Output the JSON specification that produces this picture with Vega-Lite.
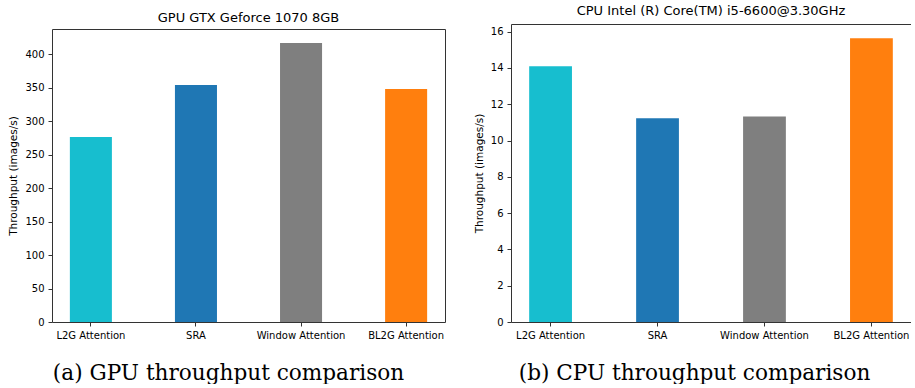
{
  "$schema": "https://vega.github.io/schema/vega-lite/v6.json",
  "padding": {"left": 8, "top": 4, "right": 0, "bottom": 0},
  "spacing": 29,
  "config": {
    "view": {"stroke": null},
    "axis": {
      "labelFont": "DejaVu Sans", "labelFontSize": 10, "labelColor": "#000",
      "tickColor": "#333", "domainColor": "#333", "domainWidth": 1, "tickWidth": 1,
      "tickSize": 4, "labelPadding": 4, "grid": false,
      "titleFont": "DejaVu Sans", "titleFontSize": 10.5, "titleFontWeight": "normal", "titleColor": "#000"
    },
    "title": {"font": "DejaVu Sans", "fontSize": 13, "fontWeight": "normal", "color": "#000", "baseline": "alphabetic"}
  },
  "hconcat": [
    {
      "width": 393, "height": 298,
      "title": {"text": "GPU GTX Geforce 1070 8GB", "offset": -1},
      "data": {"values": [
        {"method": "L2G Attention", "throughput": 276.6},
        {"method": "SRA", "throughput": 354.2},
        {"method": "Window Attention", "throughput": 417},
        {"method": "BL2G Attention", "throughput": 348.2}
      ]},
      "encoding": {
        "x": {"field": "method", "type": "nominal", "sort": null,
          "scale": {"paddingInner": 0.6, "paddingOuter": 0.17},
          "axis": {"labelAngle": 0, "title": "(a) GPU throughput comparison",
            "titleFont": "DejaVu Serif", "titleFontSize": 21.6, "titleX": 176, "titleY": 51,
            "titleAlign": "center", "titleBaseline": "middle"}},
        "color": {"field": "method", "type": "nominal", "legend": null,
          "scale": {"domain": ["L2G Attention", "SRA", "Window Attention", "BL2G Attention"],
            "range": ["#17becf", "#1f77b4", "#7f7f7f", "#ff7f0e"]}}
      },
      "layer": [
        {"mark": {"type": "bar"},
         "encoding": {"y": {"field": "throughput", "type": "quantitative",
           "scale": {"domain": [0, 437.85], "range": [298, 5], "nice": false, "zero": true},
           "axis": {"title": "Throughput (images/s)", "values": [0, 50, 100, 150, 200, 250, 300, 350, 400], "titlePadding": 6}}}},
        {"mark": {"type": "bar", "opacity": 0},
         "encoding": {"y": {"field": "throughput", "type": "quantitative",
           "axis": {"orient": "right", "values": [437.85], "grid": true, "gridColor": "#333", "gridOpacity": 1, "gridWidth": 1,
             "labels": false, "ticks": false, "title": null}}}}
      ],
      "resolve": {"axis": {"y": "independent"}}
    },
    {
      "width": 400, "height": 298,
      "title": {"text": "CPU Intel (R) Core(TM) i5-6600@3.30GHz", "offset": 6.2},
      "data": {"values": [
        {"method": "L2G Attention", "throughput": 14.09},
        {"method": "SRA", "throughput": 11.22},
        {"method": "Window Attention", "throughput": 11.33},
        {"method": "BL2G Attention", "throughput": 15.64}
      ]},
      "encoding": {
        "x": {"field": "method", "type": "nominal", "sort": null,
          "scale": {"paddingInner": 0.6, "paddingOuter": 0.17},
          "axis": {"labelAngle": 0, "title": "(b) CPU throughput comparison",
            "titleFont": "DejaVu Serif", "titleFontSize": 21.6, "titleX": 183, "titleY": 51,
            "titleAlign": "center", "titleBaseline": "middle"}},
        "color": {"field": "method", "type": "nominal", "legend": null,
          "scale": {"domain": ["L2G Attention", "SRA", "Window Attention", "BL2G Attention"],
            "range": ["#17becf", "#1f77b4", "#7f7f7f", "#ff7f0e"]}}
      },
      "layer": [
        {"mark": {"type": "bar"},
         "encoding": {"y": {"field": "throughput", "type": "quantitative",
           "scale": {"domain": [0, 16.42], "nice": false, "zero": true},
           "axis": {"title": "Throughput (images/s)", "values": [0, 2, 4, 6, 8, 10, 12, 14, 16], "titlePadding": 6}}}},
        {"mark": {"type": "bar", "opacity": 0},
         "encoding": {"y": {"field": "throughput", "type": "quantitative",
           "axis": {"orient": "right", "values": [16.42], "grid": true, "gridColor": "#333", "gridOpacity": 1, "gridWidth": 1,
             "labels": false, "ticks": false, "title": null}}}}
      ],
      "resolve": {"axis": {"y": "independent"}}
    }
  ]
}
